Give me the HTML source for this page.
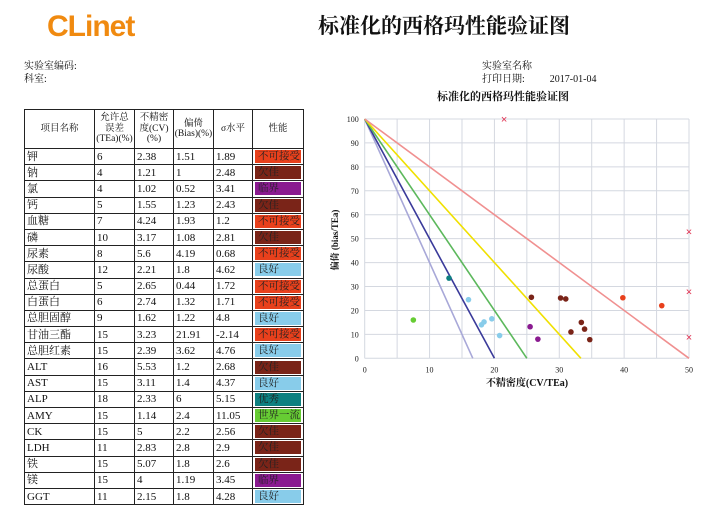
<!DOCTYPE html>
<html><head><meta charset="utf-8"><style>
body{margin:0;width:714px;height:523px;background:#fff;position:relative;overflow:hidden;font-family:"Liberation Serif","Noto Serif CJK SC",serif;color:#111}
.a{position:absolute;white-space:nowrap}
table{position:absolute;left:24px;top:109px;border-collapse:collapse;font-size:11px;table-layout:fixed;width:279px}
tr{height:16.2px}
td{border:1.3px solid #222;padding:0 0 0 2px;line-height:12px;white-space:nowrap;overflow:hidden}
th{border:1.3px solid #222;font-weight:normal;font-size:9.5px;line-height:10.5px;height:37px;padding:0;overflow:hidden}
td.c{padding:1px 2px}
.c span{display:block;height:13px;line-height:13px;padding-left:3px;color:#222;font-size:10.5px;overflow:hidden}
</style></head><body>
<div class="a" style="left:47px;top:10px;font:bold 30px 'Liberation Sans',sans-serif;color:#f08a10;letter-spacing:-1px">CLinet</div>
<div class="a" style="left:318px;top:10px;font-size:21px;font-weight:bold;font-family:'Noto Serif CJK SC',serif">标准化的西格玛性能验证图</div>
<div class="a" style="left:24px;top:57px;font-size:10px">实验室编码:</div>
<div class="a" style="left:24px;top:70px;font-size:10px">科室:</div>
<div class="a" style="left:482px;top:57px;font-size:10px">实验室名称</div>
<div class="a" style="left:482px;top:70px;font-size:10px">打印日期:&nbsp;&nbsp;&nbsp;&nbsp;&nbsp;&nbsp;&nbsp;&nbsp;&nbsp;&nbsp;2017-01-04</div>
<div class="a" style="left:437px;top:88px;font-size:11px;font-weight:bold">标准化的西格玛性能验证图</div>
<table id="tbl">
<colgroup><col style="width:70px"><col style="width:40px"><col style="width:39px"><col style="width:40px"><col style="width:39px"><col style="width:51px"></colgroup>
<tr style="height:39px"><th>项目名称</th><th>允许总<br>误差<br>(TEa)(%)</th><th>不精密<br>度(CV)<br>(%)</th><th>偏倚<br>(Bias)(%)</th><th>σ水平</th><th>性能</th></tr>
</table>
<svg width="714" height="523" style="position:absolute;left:0;top:0" id="svg"></svg>
<script>
const rows=[["钾",6,2.38,1.51,1.89,"不可接受"],["钠",4,1.21,1,2.48,"欠佳"],["氯",4,1.02,0.52,3.41,"临界"],["钙",5,1.55,1.23,2.43,"欠佳"],["血糖",7,4.24,1.93,1.2,"不可接受"],["磷",10,3.17,1.08,2.81,"欠佳"],["尿素",8,5.6,4.19,0.68,"不可接受"],["尿酸",12,2.21,1.8,4.62,"良好"],["总蛋白",5,2.65,0.44,1.72,"不可接受"],["白蛋白",6,2.74,1.32,1.71,"不可接受"],["总胆固醇",9,1.62,1.22,4.8,"良好"],["甘油三酯",15,3.23,21.91,-2.14,"不可接受"],["总胆红素",15,2.39,3.62,4.76,"良好"],["ALT",16,5.53,1.2,2.68,"欠佳"],["AST",15,3.11,1.4,4.37,"良好"],["ALP",18,2.33,6,5.15,"优秀"],["AMY",15,1.14,2.4,11.05,"世界一流"],["CK",15,5,2.2,2.56,"欠佳"],["LDH",11,2.83,2.8,2.9,"欠佳"],["铁",15,5.07,1.8,2.6,"欠佳"],["镁",15,4,1.19,3.45,"临界"],["GGT",11,2.15,1.8,4.28,"良好"]];
const perfColors={"不可接受":"#e8401c","欠佳":"#7a2418","临界":"#8a1a90","良好":"#88ccea","优秀":"#0e8080","世界一流":"#66cc33"};
const tbl=document.getElementById('tbl');
rows.forEach(r=>{const tr=document.createElement('tr');


let h='';for(let i=0;i<5;i++)h+='<td>'+r[i]+'</td>';
h+='<td class="c"><span style="background:'+perfColors[r[5]]+'">'+r[5]+'</span></td>';
tr.innerHTML=h;tbl.appendChild(tr);});

const xTicks=[0,10,20,30,40,50];
const yTicks=[0,10,20,30,40,50,60,70,80,90,100];
const sigmas=[6,5,4,3,2];
const sigmaColors=["#a8a8d8","#3a3a9a","#5cb85c","#f0e000","#f09090"];
const ptX=[13,16,18,18.4,19.6,20.8,7.5,25.7,30.2,31,31.8,33.4,33.9,34.7,25.5,26.7,39.8,45.8];
const ptY=[33.5,24.5,14,15.2,16.5,9.5,16,25.5,25.2,24.8,11,15,12.2,7.8,13.2,8,25.3,22];
const ptC=["#0e8080","#88ccea","#88ccea","#88ccea","#88ccea","#88ccea","#66cc33","#7a2418","#7a2418","#7a2418","#7a2418","#7a2418","#7a2418","#7a2418","#8a1a90","#8a1a90","#e8401c","#e8401c"];
const crossX=[21.5,50,50,50];
const crossY=[100,53,28,9];
const X=v=>364.7+v*(689-364.7)/50, Y=v=>358.3-v*(358.3-119)/100;
const svg=document.getElementById('svg');const NS='http://www.w3.org/2000/svg';
function el(t,a,p){const e=document.createElementNS(NS,t);for(const k in a)e.setAttribute(k,a[k]);(p||svg).appendChild(e);return e;}
for(let v=0;v<=50;v+=5){const l=el('line',{x1:X(v),x2:X(v),y1:Y(0),y2:Y(100),stroke:'#d4d8e0','stroke-width':1});

}
yTicks.forEach(v=>{const l=el('line',{x1:X(0),x2:X(50),y1:Y(v),y2:Y(v),stroke:'#d4d8e0','stroke-width':1});


const t=el('text',{x:X(0)-6,y:Y(v)+3,'font-size':8,'text-anchor':'end',fill:'#222'});t.textContent=v;

});
xTicks.forEach(v=>{const t=el('text',{x:X(v),y:Y(0)+14,'font-size':8,'text-anchor':'middle',fill:'#222'});t.textContent=v;

});
sigmas.forEach((s,i)=>{const l=el('line',{x1:X(0),y1:Y(100),x2:X(100/s),y2:Y(0),stroke:sigmaColors[i],'stroke-width':1.6});

});
ptX.forEach((x,i)=>{const c=el('circle',{cx:X(x),cy:Y(ptY[i]),r:2.8,fill:ptC[i]});

});
crossX.forEach((x,i)=>{const t=el('text',{x:X(x),y:Y(crossY[i])+4,'font-size':11,'text-anchor':'middle',fill:'#e03050','font-family':'Liberation Sans'});t.textContent='×';

});
const xt=el('text',{x:527,y:386,'font-size':10,'font-weight':'bold','text-anchor':'middle',fill:'#111'});xt.textContent='不精密度(CV/TEa)';


const yt=el('text',{x:0,y:0,'font-size':9,'font-weight':'bold','text-anchor':'middle',fill:'#111',transform:'translate(338,240) rotate(-90)'});yt.textContent='偏倚 (bias/TEa)';


</script>
</body></html>
